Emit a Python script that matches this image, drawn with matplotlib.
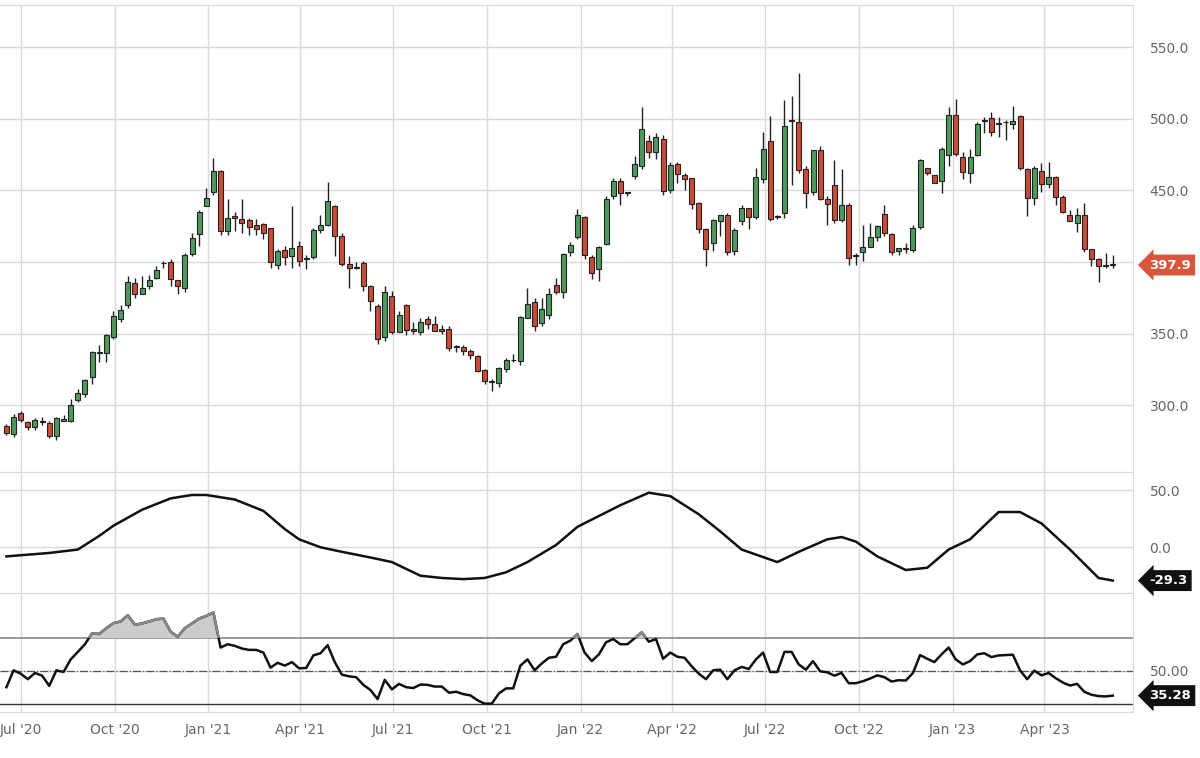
import numpy as np
import pandas as pd
import matplotlib
matplotlib.use("Agg")
import matplotlib.pyplot as plt
from matplotlib.patches import Rectangle

# weekly candles
opens = [285.7, 279.8, 294.6, 288.1, 284.5, 289.0, 287.4, 278.2, 289.0, 288.8,
         303.8, 308.0, 319.7, 336.6, 336.2, 347.9, 360.1, 369.7, 385.5, 378.0,
         383.1, 388.7, 399.0, 400.2, 387.8, 382.2, 405.4, 419.5, 439.0, 448.8,
         463.6, 421.4, 432.4, 430.1, 429.3, 425.6, 426.8, 423.7, 397.9, 408.7,
         404.2, 411.3, 402.4, 403.5, 422.1, 425.6, 439.0, 418.3, 398.4, 396.0,
         399.5, 383.1, 369.0, 347.4, 376.5, 351.4, 369.7, 353.1, 351.0, 360.3,
         356.8, 353.3, 353.1, 341.0, 340.9, 337.8, 334.5, 324.4, 316.4, 315.8,
         325.1, 331.3, 331.0, 360.8, 372.1, 357.3, 363.2, 384.3, 379.0, 407.0,
         417.4, 431.6, 403.5, 394.9, 412.8, 446.0, 456.3, 448.2, 460.0, 467.4,
         484.4, 476.7, 486.0, 450.2, 468.4, 460.7, 458.4, 441.4, 422.8, 413.5,
         429.0, 433.0, 407.7, 428.6, 437.9, 431.6, 457.7, 484.4, 431.4, 433.9,
         498.6, 498.1, 465.1, 449.1, 478.1, 443.7, 453.7, 429.1, 440.0, 404.0,
         407.0, 410.7, 417.7, 433.7, 419.3, 407.7, 409.1, 408.4, 424.6, 465.8,
         460.7, 456.5, 475.1, 503.0, 473.5, 461.9, 475.1, 498.6, 500.7, 496.5,
         497.5, 496.5, 501.9, 465.1, 444.9, 463.5, 454.2, 459.5, 445.6, 433.2,
         427.4, 433.2, 408.8, 401.8, 397.5, 397.7]
closes = [280.3, 292.0, 289.7, 285.0, 289.7, 288.5, 278.2, 290.9, 290.4, 300.3,
          308.5, 317.4, 336.9, 336.9, 348.8, 362.0, 366.7, 385.9, 378.0, 382.0,
          387.3, 394.1, 399.3, 388.3, 383.5, 405.2, 416.7, 434.7, 444.8, 463.6,
          421.4, 431.0, 430.5, 427.2, 424.2, 423.0, 420.0, 400.2, 407.8, 403.8,
          409.9, 400.7, 402.6, 422.3, 426.1, 442.5, 418.3, 398.4, 395.9, 396.2,
          383.1, 372.5, 346.3, 379.1, 351.4, 362.7, 352.6, 352.1, 357.8, 356.8,
          352.1, 352.1, 340.2, 340.9, 337.8, 335.0, 324.0, 316.7, 316.2, 326.3,
          331.5, 331.5, 361.3, 370.9, 355.4, 367.2, 378.0, 378.9, 405.8, 411.6,
          433.0, 404.9, 392.5, 410.7, 443.7, 456.3, 447.9, 448.4, 468.6, 493.0,
          476.7, 487.4, 449.3, 467.9, 461.2, 458.1, 440.2, 423.2, 408.8, 429.5,
          432.6, 407.2, 422.3, 437.9, 431.8, 459.5, 478.6, 430.2, 431.6, 495.1,
          498.8, 464.6, 448.4, 478.1, 443.7, 440.7, 429.1, 439.8, 402.5, 404.2,
          410.7, 417.4, 425.1, 420.0, 407.2, 409.7, 409.3, 424.0, 471.6, 462.3,
          454.9, 478.6, 503.0, 475.8, 463.0, 473.5, 496.5, 498.8, 490.7, 496.7,
          497.7, 498.8, 465.8, 444.9, 465.8, 454.2, 459.5, 445.6, 435.1, 428.6,
          432.8, 408.8, 401.8, 397.2, 397.7, 397.9]
highs = [287, 294, 296, 289, 291, 292, 289, 292, 293, 304, 311, 318, 338, 342, 350,
         366, 370, 390, 389, 390, 391, 397, 401, 402, 387, 406, 420, 436, 452, 473,
         464, 444, 435, 444, 431, 430, 427, 424, 409, 411, 439, 415, 405, 424, 433,
         456, 440, 420, 404, 400, 401, 384, 371, 383, 380, 366, 371, 358, 361, 362,
         362, 356, 355, 342, 342, 339, 335, 325, 318, 327, 333, 336, 362, 382, 375,
         375, 382, 389, 406, 414, 437, 432, 405, 411, 446, 459, 459, 449, 474, 508,
         489, 490, 489, 470, 470, 462, 459, 442, 424, 430, 433, 434, 424, 440, 438,
         466, 491, 502, 433, 513, 516, 532, 467, 478, 481, 446, 471, 465, 441, 406,
         426, 427, 426, 440, 420, 410, 413, 426, 472, 466, 461, 480, 508, 514, 477,
         479, 498, 501, 505, 501, 499, 509, 503, 466, 467, 469, 470, 460, 447, 436,
         438, 441, 409, 403, 406, 405]
lows = [279, 278, 288, 283, 283, 286, 277, 276, 289, 288, 302, 306, 315, 330, 330,
        346, 358, 368, 375, 378, 381, 388, 396, 383, 378, 379, 404, 411, 440, 447,
        419, 419, 422, 420, 419, 419, 416, 396, 395, 398, 396, 397, 395, 402, 420,
        425, 404, 397, 382, 395, 380, 366, 343, 345, 350, 353, 349, 350, 349, 353,
        352, 350, 338, 337, 335, 332, 323, 315, 310, 313, 323, 330, 328, 369, 352,
        355, 360, 378, 375, 404, 416, 402, 388, 387, 412, 444, 440, 446, 458, 465,
        473, 472, 447, 448, 455, 450, 437, 420, 397, 408, 418, 405, 405, 426, 423,
        430, 455, 429, 430, 431, 454, 462, 438, 447, 443, 426, 427, 428, 398, 398,
        401, 412, 415, 418, 405, 405, 406, 407, 423, 461, 455, 448, 467, 474, 458,
        455, 474, 490, 488, 487, 485, 493, 464, 432, 440, 449, 452, 440, 434, 429,
        421, 407, 397, 386, 396, 396]

# middle oscillator, read at selected weeks
osc_weeks = [0, 2, 6, 10, 13, 15, 19, 23, 26, 28, 32, 36, 39, 41, 44, 47, 51, 54, 58,
             61, 64, 67, 70, 73, 77, 80, 86, 90, 93, 97, 100, 103, 108, 111, 115, 117,
             119, 122, 126, 129, 132, 135, 139, 142, 145, 149, 153, 155]
osc_vals = [-8, -7, -5, -2, 10, 19, 33, 43, 46, 46, 42, 32, 16, 7, 0, -4, -9, -13,
            -25, -27, -28, -27, -22, -13, 2, 18, 37, 48, 45, 29, 14, -2, -13, -4, 7,
            9, 5, -8, -20, -18, -2, 7, 31, 31, 21, -2, -27, -29.3]

# RSI, one value per week
rsi = [40.3, 50.4, 48.4, 45.1, 48.8, 47.2, 41.1, 50.4, 49.4, 56.9, 61.4, 66.0, 72.5,
       72.1, 75.6, 78.6, 79.6, 83.3, 77.6, 78.4, 79.6, 80.9, 81.3, 73.5, 70.5, 75.6,
       78.4, 81.3, 82.9, 84.9, 64.0, 66.0, 65.0, 63.4, 62.6, 62.6, 61.0, 52.0, 54.9,
       53.2, 55.3, 51.6, 51.8, 59.3, 60.6, 65.4, 55.3, 47.8, 46.8, 46.3, 41.7, 38.6,
       33.2, 44.7, 39.0, 42.3, 40.3, 39.8, 41.9, 41.7, 40.7, 40.7, 37.0, 37.6, 36.2,
       35.4, 32.5, 30.5, 30.5, 36.6, 39.6, 39.6, 53.2, 56.9, 50.4, 54.5, 57.9, 58.5,
       66.0, 68.1, 72.1,
       61.0, 55.9, 59.9, 67.1, 69.1, 66.0, 66.0, 69.5, 73.1, 67.5, 69.1, 57.3, 61.0,
       58.5, 57.9, 52.8, 48.4, 45.1, 50.4, 50.8, 45.1, 50.4, 52.4, 51.2, 56.9, 61.0,
       49.4, 49.4, 61.4, 61.4, 53.9, 50.8, 55.9, 49.8, 49.2, 47.2, 48.8, 42.7, 42.7,
       43.9, 45.5, 47.4, 46.3, 43.7, 44.5, 44.3, 48.8, 59.5, 57.3, 55.3, 59.9, 64.0,
       56.9, 53.9, 55.9, 59.9, 60.6, 58.3, 59.3, 59.5, 59.7, 50.4, 45.1, 50.2, 47.4,
       48.8, 45.7, 43.1, 41.3, 42.3, 37.6, 35.8, 35.0, 34.8, 35.28]

tick_dates = ["2020-07-01", "2020-10-01", "2021-01-01", "2021-04-01", "2021-07-01",
              "2021-10-01", "2022-01-01", "2022-04-01", "2022-07-01", "2022-10-01",
              "2023-01-01", "2023-04-01"]
tick_labels = ["Jul '20", "Oct '20", "Jan '21", "Apr '21", "Jul '21", "Oct '21",
               "Jan '22", "Apr '22", "Jul '22", "Oct '22", "Jan '23", "Apr '23"]

start = pd.Timestamp("2020-06-17")
x = np.arange(len(closes))
ticks = [(pd.Timestamp(d) - start).days / 7 for d in tick_dates]

GREEN, RED = "#4e9a5c", "#cc4b37"
GRID = "#d9d9d9"
TXT = "#666666"

fig = plt.figure(figsize=(12, 7.58), dpi=100)
ax1 = fig.add_axes([0, 0.377, 0.944, 0.616])
ax2 = fig.add_axes([0, 0.2177, 0.944, 0.1593], sharex=ax1)
ax3 = fig.add_axes([0, 0.0607, 0.944, 0.157], sharex=ax1)

for ax in (ax1, ax2, ax3):
    ax.set_xticks(ticks)
    ax.grid(True, color=GRID, linewidth=1)
    ax.set_axisbelow(True)
    ax.yaxis.tick_right()
    ax.tick_params(length=0, labelsize=10, colors=TXT, pad=12)
    for s in ax.spines.values():
        s.set_color(GRID)
    ax.spines["left"].set_visible(False)

# candles
for i in x:
    o, c = opens[i], closes[i]
    col = GREEN if c >= o else RED
    ax1.vlines(i, lows[i], highs[i], color="#222222", linewidth=1, zorder=2)
    h = max(abs(c - o), 0.6)
    ax1.add_patch(Rectangle((i - 0.35, min(o, c)), 0.7, h, facecolor=col,
                            edgecolor="#222222", linewidth=0.8, zorder=3))
ax1.set_xlim(-0.9, 157.8)
ax1.set_ylim(253.2, 579.3)
ax1.set_yticks([300, 350, 400, 450, 500, 550])
# the last-price badge covers the 400 label
ax1.set_yticklabels(["300.0", "350.0", "", "450.0", "500.0", "550.0"])
ax1.tick_params(labelbottom=False)
ax1.annotate("397.9", xy=(1.0, closes[-1]), xycoords=("axes fraction", "data"),
             xytext=(12, 0), textcoords="offset points", ha="left", va="center",
             color="white", fontsize=9.5, fontweight="bold",
             bbox=dict(boxstyle="larrow,pad=0.3", fc="#d9553b", ec="none"))

# oscillator
ax2.plot(osc_weeks, osc_vals, color="#111111", linewidth=1.8)
ax2.set_ylim(-40.2, 66)
ax2.set_yticks([0, 50])
ax2.set_yticklabels(["0.0", "50.0"])
ax2.tick_params(labelbottom=False)
ax2.annotate("-29.3", xy=(1.0, osc_vals[-1]), xycoords=("axes fraction", "data"),
             xytext=(12, 0), textcoords="offset points", ha="left", va="center",
             color="white", fontsize=9.5, fontweight="bold",
             bbox=dict(boxstyle="larrow,pad=0.3", fc="#111111", ec="none"))

# RSI
r = np.array(rsi)
ax3.axhline(70, color="#888888", linewidth=1.2)
ax3.axhline(30, color="#333333", linewidth=1)
ax3.axhline(50, color="#555555", linewidth=0.9, linestyle="-.")
ax3.fill_between(x, 70, r, where=r > 70, interpolate=True, color="#cccccc", zorder=2)
ax3.plot(x, r, color="#111111", linewidth=1.8, zorder=3)
hi_line, = ax3.plot(x, r, color="#888888", linewidth=1.8, zorder=4)
clip = Rectangle((-5, 70), 200, 50, transform=ax3.transData)
hi_line.set_clip_path(clip)
ax3.set_ylim(25.5, 96.6)
ax3.set_yticks([50])
ax3.set_yticklabels(["50.00"])
ax3.set_xticklabels(tick_labels)
ax3.tick_params(axis="x", pad=8)
ax3.annotate("35.28", xy=(1.0, rsi[-1]), xycoords=("axes fraction", "data"),
             xytext=(12, 0), textcoords="offset points", ha="left", va="center",
             color="white", fontsize=9.5, fontweight="bold",
             bbox=dict(boxstyle="larrow,pad=0.3", fc="#111111", ec="none"))

fig.savefig("out.png", dpi=100)
